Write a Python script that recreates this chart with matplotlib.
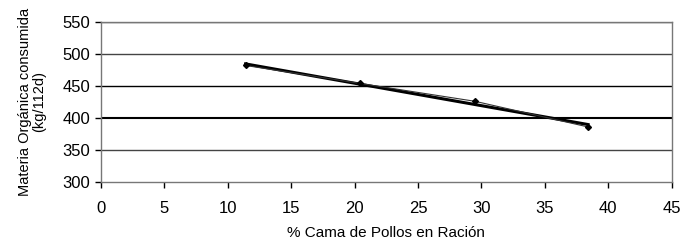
import numpy as np
import matplotlib
matplotlib.use("Agg")
import matplotlib.pyplot as plt

plt.rcParams['font.family'] = ['Liberation Sans', 'DejaVu Sans']

cama_pct = [11.4, 20.4, 29.5, 38.4]
mo_consumida = [482, 454, 426, 386]

fig = plt.figure(figsize=(6.82, 2.46), dpi=100)
ax = fig.add_axes([0.148, 0.26, 0.837, 0.651])

# gridlines
for yv in [350, 400, 450, 500, 550]:
    lw = 1.5 if yv == 400 else 1.0
    col = 'black' if yv in (400, 450) else '#444444'
    ax.axhline(yv, color=col, lw=lw, zorder=1)

# observed values
ax.plot(cama_pct, mo_consumida, color='#333333', lw=0.8, marker='D',
        markersize=3, markerfacecolor='black', markeredgecolor='black', zorder=3)

# linear trend
coef = np.polyfit(cama_pct, mo_consumida, 1)
xt = np.array([cama_pct[0], cama_pct[-1]])
ax.plot(xt, np.polyval(coef, xt), color='black', lw=2.2, zorder=2)

ax.set_xlim(0, 45)
ax.set_ylim(300, 550)
ax.set_xticks(range(0, 46, 5))
ax.set_yticks(range(300, 551, 50))
ax.tick_params(axis='both', labelsize=12, length=4, width=1, color='black', direction='out')
ax.tick_params(axis='x', pad=10)
for s in ax.spines.values():
    s.set_color('#777777')
    s.set_linewidth(1)

ax.set_xlabel('% Cama de Pollos en Ración', fontsize=11, labelpad=7)
ax.set_ylabel('Materia Orgánica consumida\n(kg/112d)', fontsize=10.5, labelpad=12, linespacing=1.0)

fig.savefig('out.png', dpi=100)
